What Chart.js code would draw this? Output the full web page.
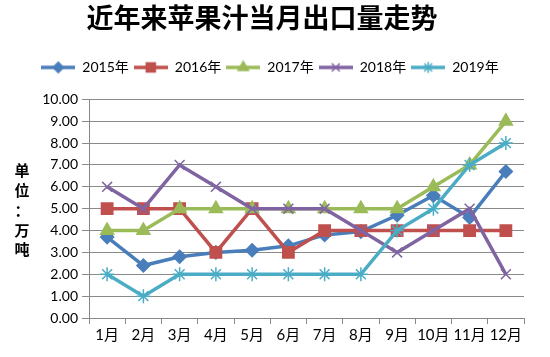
<!DOCTYPE html>
<html><head><meta charset="utf-8">
<script src="https://cdn.jsdelivr.net/npm/chart.js@4/dist/chart.umd.min.js"></script>
<style>html,body{margin:0;padding:0;background:#fff}#wrap{width:550px;height:357px}</style>
</head><body><div id="wrap"><canvas id="c" width="550" height="357"></canvas></div>
<script>
const categories = ['1月','2月','3月','4月','5月','6月','7月','8月','9月','10月','11月','12月'];
const seriesNames = ['2015年','2016年','2017年','2018年','2019年'];
const v2015 = [3.7, 2.4, 2.8, 3.0, 3.1, 3.3, 3.8, 3.95, 4.7, 5.6, 4.6, 6.7];
const v2016 = [5, 5, 5, 3, 5, 3, 4, 4, 4, 4, 4, 4];
const v2017 = [4, 4, 5, 5, 5, 5, 5, 5, 5, 6, 7, 9];
const v2018 = [6, 5, 7, 6, 5, 5, 5, 4, 3, 4, 5, 2];
const v2019 = [2, 1, 2, 2, 2, 2, 2, 2, 4, 5, 7, 8];
const yTicks = [0,1,2,3,4,5,6,7,8,9,10];
const titleText = '近年来苹果汁当月出口量走势';
const yTitleChars = ['单','位','：','万','吨'];

const colors = ['#4A7EBB','#C0504D','#9BBB59','#8064A2','#4BACC6'];
const styles = ['rectRot','rect','triangle','crossRot','star'];
const radii = [6.5, 8, 7.5, 7, 7];
const values = [v2015, v2016, v2017, v2018, v2019];

function legendImg(i){
  const cv = document.createElement('canvas');
  cv.width = 34; cv.height = 16;
  const ctx = cv.getContext('2d');
  ctx.strokeStyle = colors[i]; ctx.lineWidth = 3.5;
  ctx.beginPath(); ctx.moveTo(0,8); ctx.lineTo(34,8); ctx.stroke();
  ctx.fillStyle = colors[i]; ctx.lineWidth = 1.5;
  Chart.helpers.drawPoint(ctx, {pointStyle: styles[i], radius: radii[i]*0.8, borderWidth: 1.5, rotation: 0}, 17, 8);
  return cv;
}

const font = "Lato, 'Noto Sans CJK SC', sans-serif";

const yTitlePlugin = {
  id: 'yTitle',
  beforeInit(chart){
    const lg = chart.legend;
    if (lg && !lg._patched) {
      const origFit = lg.fit.bind(lg);
      lg.fit = function(){ origFit(); this.height += 15; };
      const origDraw = lg.draw.bind(lg);
      lg.draw = function(){
        const ctx = this.ctx; ctx.save(); ctx.translate(8, 0); origDraw(); ctx.restore();
      };
      lg._patched = true;
    }
  },
  afterDraw(chart){
    const ctx = chart.ctx;
    ctx.save();
    ctx.fillStyle = '#000';
    ctx.font = "bold 15px 'Noto Sans CJK SC'";
    ctx.textAlign = 'center'; ctx.textBaseline = 'middle';
    const ys = [170, 190, 210, 230, 249];
    yTitleChars.forEach((ch, k) => ctx.fillText(ch, 22, ys[k]));
    ctx.restore();
  }
};

new Chart(document.getElementById('c'), {
  type: 'line',
  data: {
    labels: categories,
    datasets: seriesNames.map((n, i) => ({
      label: n,
      data: values[i],
      borderColor: colors[i],
      backgroundColor: colors[i],
      pointBackgroundColor: colors[i],
      pointBorderColor: colors[i],
      pointStyle: styles[i],
      pointRadius: radii[i],
      pointBorderWidth: 1.5,
      borderWidth: 3.5,
      tension: 0,
      order: 4 - i
    }))
  },
  options: {
    responsive: false,
    animation: false,
    devicePixelRatio: 1,
    layout: {padding: {left: 0, right: 26, top: 0, bottom: 0}},
    plugins: {
      tooltip: {enabled: false},
      title: {
        display: true, text: titleText, color: '#000',
        font: {family: "'Noto Sans CJK SC'", size: 27, weight: 'bold'},
        padding: {top: 2, bottom: 21}
      },
      legend: {
        display: true,
        labels: {
          color: '#000',
          font: {family: font, size: 14},
          usePointStyle: true,
          pointStyleWidth: 34,
          boxHeight: 14,
          padding: 5,
          sort: (a, b) => a.datasetIndex - b.datasetIndex,
          generateLabels(chart){
            const items = Chart.defaults.plugins.legend.labels.generateLabels(chart);
            items.forEach(it => { it.pointStyle = legendImg(it.datasetIndex); });
            return items;
          }
        }
      }
    },
    scales: {
      x: {
        offset: true,
        grid: {display: true, drawOnChartArea: false, drawTicks: true, tickLength: 6, offset: true, color: '#888'},
        border: {display: true, color: '#888', width: 1},
        ticks: {color: '#000', font: {family: font, size: 15}, padding: 2, maxRotation: 0, autoSkip: false},
        afterFit(s){ s.height = 39; }
      },
      y: {
        min: 0, max: 10,
        afterBuildTicks(s){ s.ticks = yTicks.map(v => ({value: v})); },
        grid: {color: '#8a8a8a', lineWidth: 1, tickLength: 7, drawTicks: true},
        border: {display: true, color: '#888', width: 1},
        ticks: {color: '#000', font: {family: font, size: 14}, padding: 4, callback: v => Number(v).toFixed(2)},
        afterFit(s){ s.width = 89; }
      }
    }
  },
  plugins: [yTitlePlugin]
});
</script></body></html>
